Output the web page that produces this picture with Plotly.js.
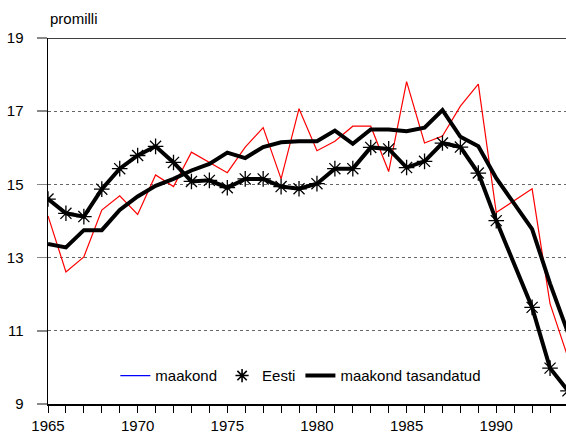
<!DOCTYPE html>
<html>
<head>
<meta charset="utf-8">
<script src="https://cdn.plot.ly/plotly-3.0.1.min.js"></script>
<style>
html,body{margin:0;padding:0;overflow:hidden;background:#fff;}
#chart{width:566px;height:432px;}
</style>
</head>
<body>
<div id="chart"></div>
<script>
var years = [1965,1966,1967,1968,1969,1970,1971,1972,1973,1974,1975,1976,1977,1978,1979,1980,1981,1982,1983,1984,1985,1986,1987,1988,1989,1990,1991,1992,1993,1994];
var maakond = [14.14,12.61,13.02,14.30,14.69,14.18,15.26,14.94,15.88,15.60,15.32,16.02,16.55,15.15,17.07,15.92,16.18,16.59,16.59,15.35,17.81,16.13,16.32,17.14,17.74,14.23,null,14.88,11.74,10.27];
var eesti = [14.60,14.21,14.12,14.87,15.43,15.79,16.04,15.60,15.08,15.11,14.91,15.15,15.15,14.94,14.88,15.02,15.43,15.43,16.01,15.97,15.46,15.63,16.13,16.02,15.31,14.01,null,11.64,9.98,9.36];
var tasandatud = [13.37,13.28,13.75,13.75,14.30,14.67,14.96,15.15,15.38,15.56,15.87,15.72,16.02,16.15,16.18,16.18,16.47,16.11,16.50,16.50,16.45,16.55,17.03,16.30,16.04,15.17,null,13.78,12.29,10.95];
var seriesNames = ['maakond','Eesti','maakond tasandatud'];
var yTicks = [9,11,13,15,17,19];
var xTicks = [1965,1970,1975,1980,1985,1990];

var FONT = 'Liberation Sans, Arial, sans-serif';

var traces = [
  {x: years, y: maakond, type:'scatter', mode:'lines', connectgaps:true,
   line:{color:'#ff0000', width:1.2}, showlegend:false, hoverinfo:'skip', cliponaxis:true},
  {x: years, y: tasandatud, type:'scatter', mode:'lines', connectgaps:true,
   line:{color:'#000', width:4}, showlegend:false},
  {x: years, y: eesti, type:'scatter', mode:'lines+markers', connectgaps:true,
   line:{color:'#000', width:4},
   marker:{symbol:'asterisk-open', size:13, color:'#000', line:{color:'#000', width:1.3}},
   showlegend:false},
  // legend entries
  {x:[null], y:[null], type:'scatter', mode:'lines', name:seriesNames[0],
   line:{color:'#0000ff', width:1.2}},
  {x:[null], y:[null], type:'scatter', mode:'markers', name:seriesNames[1],
   marker:{symbol:'asterisk-open', size:11, color:'#000', line:{color:'#000', width:1.6}}},
  {x:[null], y:[null], type:'scatter', mode:'lines', name:seriesNames[2],
   line:{color:'#000', width:4}}
];

var layout = {
  width:566, height:432,
  margin:{l:48, r:0, t:38, b:28, pad:0},
  paper_bgcolor:'#fff', plot_bgcolor:'#fff',
  font:{family:FONT, size:15, color:'#000'},
  showlegend:true,
  legend:{orientation:'h', x:0.13, y:0.077, xanchor:'left', yanchor:'middle',
          bgcolor:'rgba(0,0,0,0)', font:{family:FONT, size:15, color:'#000'},
          itemwidth:30, tracegroupgap:0},
  xaxis:{range:[1965, 1993.89], tickvals:xTicks, ticks:'outside', ticklen:7, tickcolor:'#000', tickwidth:1,
         minor:{dtick:1, tick0:1965, ticks:'outside', ticklen:7, tickcolor:'#000', tickwidth:1, showgrid:false},
         showgrid:false, zeroline:false, showline:true, linecolor:'#000', linewidth:1.5,
         tickfont:{family:FONT, size:15, color:'#000'}, fixedrange:true},
  yaxis:{range:[9,19], tickvals:yTicks, ticks:'outside', ticklen:10, tickcolor:'#888', tickwidth:1.5,
         showgrid:true, gridcolor:'#666', gridwidth:1.3, griddash:'dot',
         zeroline:false, showline:true, linecolor:'#000', linewidth:1.5,
         ticklabelstandoff:10,
         tickfont:{family:FONT, size:15, color:'#000'}, fixedrange:true},
  shapes:[{type:'line', xref:'paper', yref:'y', x0:0, x1:1, y0:19, y1:19, line:{color:'#000', width:1.5}}],
  annotations:[{text:'promilli', xref:'paper', yref:'paper', x:0, y:1, xanchor:'left', yanchor:'middle',
                yshift:20, showarrow:false, font:{family:FONT, size:15, color:'#000'}}]
};

Plotly.newPlot('chart', traces, layout, {displayModeBar:false, staticPlot:true});
</script>
</body>
</html>
